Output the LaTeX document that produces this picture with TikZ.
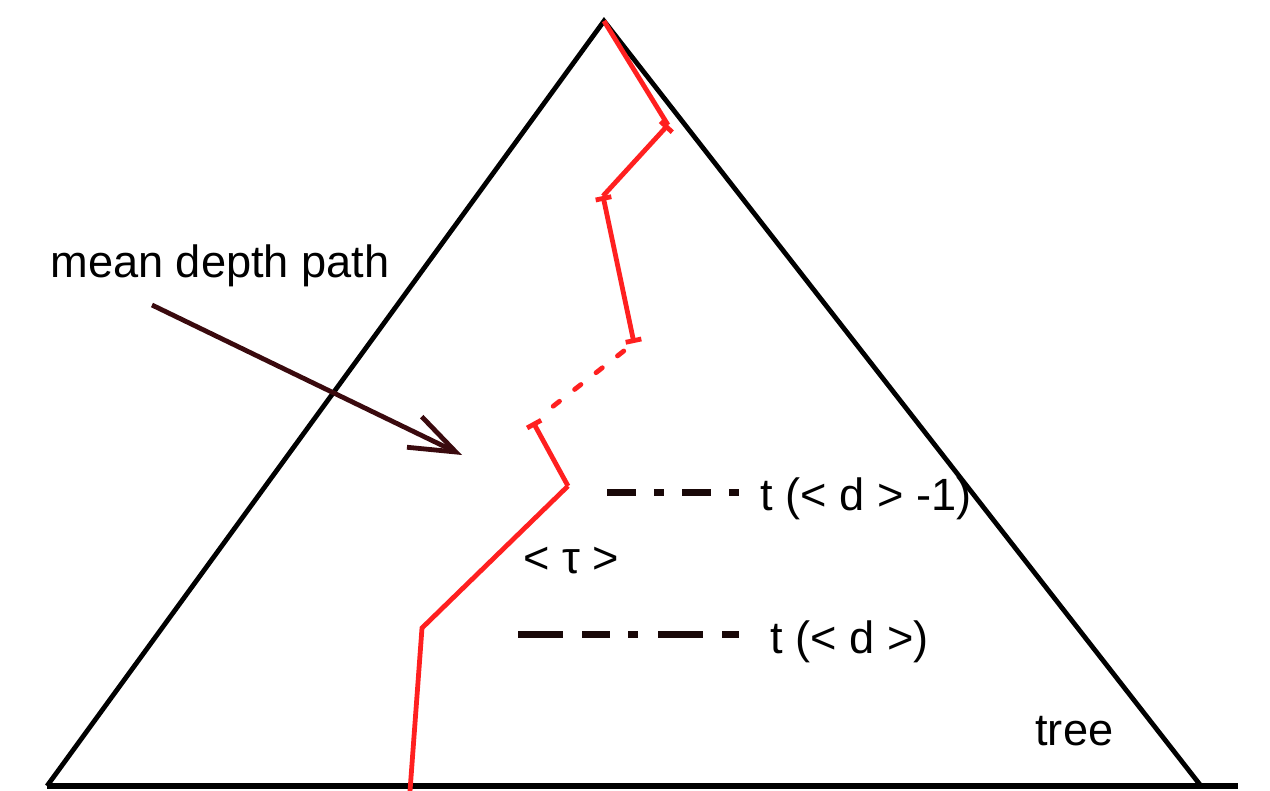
\documentclass[tikz,border=0pt]{standalone}
\usepackage{fontspec}
\setmainfont{Liberation Sans}
\usetikzlibrary{arrows.meta,calc}
\definecolor{redpath}{RGB}{255,32,32}
\definecolor{arrowbrown}{RGB}{58,10,14}
\definecolor{dashdark}{RGB}{25,8,8}
\tikzset{
  treeline/.style={draw=black,line width=2.4pt,line join=miter},
  baseline/.style={draw=black,line width=3.2pt},
  redline/.style={draw=redpath,line width=2.4pt,line join=miter},
  redbar/.style={redline,{Bar[width=8pt,line width=2.4pt]}-{Bar[width=8pt,line width=2.4pt]}},
  redbarstart/.style={redline,{Bar[width=8pt,line width=2.4pt]}-},
  reddashed/.style={redline,dash pattern=on 4pt off 9.6pt,line cap=round},
  levelA/.style={draw=dashdark,line width=3.5pt,dash pattern=on 14.5pt off 9pt on 5pt off 9pt},
  levelB/.style={draw=dashdark,line width=3.5pt,dash pattern=on 22.5pt off 9.5pt on 14pt off 9pt on 5pt off 10pt},
  lbl/.style={inner sep=0pt,anchor=base west,font=\fontsize{22.6}{27}\selectfont,text=black},
  pointer/.style={draw=arrowbrown,line width=2.4pt,-{Straight Barb[length=23pt,width=17pt,line width=2.4pt]}}
}
\begin{document}
\begin{tikzpicture}[x=0.5pt,y=-0.5pt]
\useasboundingbox (0,0) rectangle (1270,791);
% triangle corners
\coordinate (apex) at (604,21);
\coordinate (bl) at (47,786);
\coordinate (br) at (1201,786);
\coordinate (bend) at (1238,786);
\draw[treeline] (bl) -- (apex) -- (br);
\draw[baseline] (bl) -- (bend);
% red path points
\coordinate (p0) at (604,21);
\coordinate (p1) at (668,125);
\coordinate (p2) at (603,196);
\coordinate (p3) at (634,343);
\coordinate (p4) at (533,422);
\coordinate (p5) at (568,486);
\coordinate (p6) at (422,628);
\coordinate (p7) at (410,791);
\draw[redline] (p0) -- (p1);
\draw[redbarstart] (p1) -- (p2);
\draw[redbar] (p2) -- (p3);
\draw[reddashed] ($(p3)!6.5pt!(p4)$) -- ($(p4)!12pt!(p3)$);
\draw[redbarstart] (p4) -- (p5);
\draw[redline] (p5) -- (p6) -- (p7);
% level lines
\coordinate (a1) at (607,492);
\coordinate (a2) at (741,492);
\coordinate (b1) at (518,634);
\coordinate (b2) at (739,634);
\draw[levelA] (a1) -- (a2);
\draw[levelB] (b1) -- (b2);
% labels
\node[lbl] (mdp) at (50,278) {mean depth path};
\node[lbl] (tdm1) at (760,510) {t (< d > -1)};
\node[lbl] (tau) at (523,573) {< τ >};
\node[lbl] (td) at (770,653) {t (< d >)};
\node[lbl] (tree) at (1035,745) {tree};
% arrow
\coordinate (arrs) at (152,305);
\coordinate (arre) at (462,455);
\draw[pointer] (arrs) -- (arre);
\end{tikzpicture}
\end{document}
